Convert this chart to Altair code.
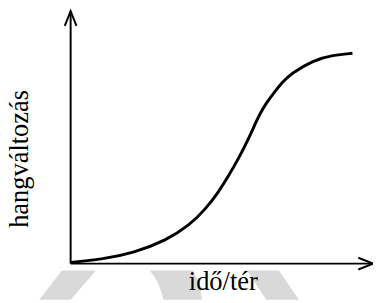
import altair as alt
import pandas as pd

# S-curve (axis units 0..100)
curve_x = [0, 10.0, 21.0, 31.7, 39.2, 44.7, 48.9, 52.1, 55.3, 58.6, 61.5, 62.8, 64.7, 67.3, 69.9, 72.8, 80.3, 86.7, 93.2]
curve_y = [0.5, 1.6, 4.3, 9.3, 15.1, 21.7, 28.3, 34.5, 41.1, 48.8, 56.6, 59.7, 63.6, 67.8, 71.7, 75.2, 80.6, 82.6, 83.3]

x_title = "idő/tér"
y_title = "hangváltozás"

# light grey watermark shapes below the x axis
wm_shape = ["a", "a", "b", "b", "b", "b", "c", "c"]
wm_y = [-2.7, -14.3, -2.7, -6.6, -10.5, -14.3, -2.7, -14.3]
wm_x1 = [-2.9, -10.4, 26.2, 28.4, 29.8, 30.7, 58.3, 64.7]
wm_x2 = [8.4, 0.0, 40.5, 42.0, 42.9, 43.4, 68.9, 75.5]

FONT = "Liberation Serif"
xs = alt.Scale(domain=[0, 100], nice=False, zero=False)
ys = alt.Scale(domain=[0, 100], nice=False, zero=False)

wm_df = pd.DataFrame({"s": wm_shape, "wy": wm_y, "wx": wm_x1, "wx2": wm_x2})
watermark = alt.Chart(wm_df).mark_area(orient="horizontal", color="#d9d9d9",
                                       interpolate="monotone").encode(
    y=alt.Y("wy:Q", scale=ys, axis=None),
    x=alt.X("wx:Q", scale=xs, axis=None),
    x2="wx2:Q",
    detail="s:N",
)

curve_df = pd.DataFrame({"x": curve_x, "y": curve_y})
curve = alt.Chart(curve_df).mark_line(interpolate="basis", strokeWidth=3, color="black").encode(
    x=alt.X("x:Q", scale=xs, axis=None),
    y=alt.Y("y:Q", scale=ys, axis=None),
)

axes_df = pd.DataFrame({"x": [0, 0], "x2": [0, 100], "y": [0, 0], "y2": [100, 0]})
axes = alt.Chart(axes_df).mark_rule(strokeWidth=2, color="black").encode(
    x=alt.X("x:Q", scale=xs, axis=None),
    x2="x2:Q",
    y=alt.Y("y:Q", scale=ys, axis=None),
    y2="y2:Q",
)

arrow_df = pd.DataFrame({"x": [0, 100], "y": [100, 0], "a": [0, 90]})
arrows = alt.Chart(arrow_df).mark_point(
    shape="M-0.4,1L0,0L0.4,1", filled=False, size=900, strokeWidth=2, color="black", opacity=1
).encode(
    x=alt.X("x:Q", scale=xs, axis=None),
    y=alt.Y("y:Q", scale=ys, axis=None),
    angle=alt.Angle("a:Q", scale=None),
)

xlab = alt.Chart(pd.DataFrame({"t": [x_title]})).mark_text(
    font=FONT, fontSize=27, color="black", align="center", baseline="alphabetic"
).encode(text="t:N", x=alt.value(156), y=alt.value(285))

ylab = alt.Chart(pd.DataFrame({"t": [y_title]})).mark_text(
    font=FONT, fontSize=27, color="black", align="center", baseline="alphabetic", angle=270
).encode(text="t:N", x=alt.value(-44), y=alt.value(151))

chart = alt.layer(watermark, curve, axes, arrows, xlab, ylab).properties(
    width=309, height=258,
    autosize=alt.AutoSizeParams(type="none"),
    padding={"left": 64, "top": 0, "right": 0, "bottom": 37},
    background="white",
).configure_view(stroke=None)

chart.save("out.html", embed_options={"renderer": "svg", "actions": False})
